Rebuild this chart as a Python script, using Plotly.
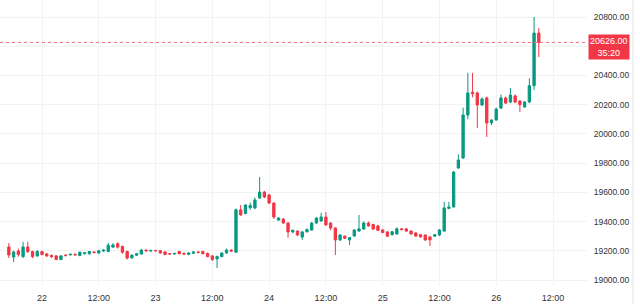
import pandas as pd
import plotly.graph_objects as go

# Hourly candles, 21 17:00 -> 26 09:00
start_time = "2024-08-21 17:00"
opens = [19226,19157,19198,19160,19226,19195,19165,19195,19178,19168,19165,19140,19170,19172,19176,19168,19180,19180,19192,19185,
         19198,19195,19225,19248,19230,19195,19152,19170,19178,19205,19198,19202,19200,19192,19180,19178,19195,19182,19175,19183,
         19192,19195,19182,19165,19145,19160,19185,19205,19190,19480,19455,19495,19493,19561,19602,19582,19527,19410,19417,19390,
         19329,19335,19294,19330,19342,19390,19404,19431,19390,19356,19274,19300,19275,19301,19335,19349,19390,19380,19370,19342,
         19329,19310,19315,19350,19350,19335,19322,19310,19308,19295,19300,19308,19335,19490,19500,19767,19835,20129,20285,20280,
         20198,20246,20075,20095,20177,20246,20218,20260,20225,20184,20218,20330,20690]
highs = [19253,19200,19215,19260,19262,19200,19205,19200,19185,19175,19170,19170,19175,19180,19182,19195,19192,19198,19196,19205,
         19210,19255,19252,19258,19236,19200,19175,19185,19212,19210,19208,19206,19205,19198,19185,19186,19200,19188,19190,19198,
         19196,19200,19188,19170,19168,19190,19215,19210,19490,19513,19520,19530,19565,19705,19610,19590,19530,19430,19425,19395,
         19345,19340,19335,19352,19395,19430,19460,19465,19395,19360,19312,19305,19295,19348,19445,19400,19400,19385,19378,19350,
         19335,19336,19360,19356,19356,19340,19328,19315,19312,19300,19315,19348,19535,19535,19745,19860,20180,20417,20417,20290,
         20250,20255,20100,20180,20270,20255,20314,20270,20230,20225,20380,20800,20725]
lows = [19150,19123,19160,19150,19185,19150,19158,19168,19158,19150,19135,19135,19160,19168,19168,19162,19175,19172,19182,19178,
        19192,19190,19220,19215,19180,19140,19145,19165,19175,19195,19194,19195,19180,19170,19172,19174,19175,19172,19170,19178,
        19182,19175,19155,19130,19082,19155,19180,19192,19185,19440,19450,19480,19485,19555,19560,19520,19418,19405,19385,19290,
        19320,19300,19275,19325,19338,19385,19400,19370,19340,19171,19268,19280,19240,19296,19330,19345,19365,19342,19335,19320,
        19295,19305,19310,19340,19330,19310,19296,19290,19268,19233,19295,19300,19330,19485,19495,19760,19830,20100,20250,20040,
        20190,19979,20060,20090,20170,20205,20210,20210,20150,20180,20210,20300,20526]
closes = [19171,19192,19175,19226,19195,19160,19195,19175,19165,19160,19140,19165,19168,19176,19172,19190,19186,19195,19188,19200,
          19205,19238,19240,19225,19190,19150,19170,19180,19205,19200,19202,19200,19185,19175,19178,19182,19180,19178,19185,19192,
          19188,19180,19160,19140,19160,19185,19205,19198,19480,19445,19513,19510,19548,19602,19568,19527,19431,19424,19390,19329,
          19340,19308,19329,19345,19390,19424,19431,19377,19356,19274,19308,19285,19290,19342,19350,19390,19370,19349,19340,19325,
          19300,19330,19350,19345,19335,19315,19301,19295,19274,19275,19310,19342,19493,19500,19739,19821,20129,20280,20275,20198,
          20239,20075,20095,20170,20246,20211,20266,20218,20200,20218,20330,20690,20626]

last_price = 20626.00
countdown = "35:20"
y_ticks = [19000, 19200, 19400, 19600, 19800, 20000, 20200, 20400, 20600, 20800]
hidden_ticks = [20600]  # covered by the price box in the reference
x_tick_times = ["2024-08-22 00:00", "2024-08-22 12:00", "2024-08-23 00:00", "2024-08-23 12:00",
                "2024-08-24 00:00", "2024-08-24 12:00", "2024-08-25 00:00", "2024-08-25 12:00",
                "2024-08-26 00:00", "2024-08-26 12:00"]
x_tick_text = ["22", "12:00", "23", "12:00", "24", "12:00", "25", "12:00", "26", "12:00"]

times = pd.date_range(start_time, periods=len(closes), freq="h")

UP = "#089981"
DOWN = "#F23645"
FONT = "Liberation Sans"

fig = go.Figure(go.Candlestick(
    x=times, open=opens, high=highs, low=lows, close=closes,
    increasing=dict(line=dict(color=UP, width=1), fillcolor=UP),
    decreasing=dict(line=dict(color=DOWN, width=1), fillcolor=DOWN),
    whiskerwidth=0, hoverinfo="skip",
))

# Axis ranges (layout): 22 00:00 at 42px, 26 12:00 at 553px, plot width 587px
plot_w = 587
px_per_hour = (553 - 42) / 108.0
t22 = pd.Timestamp("2024-08-22 00:00")
x0 = t22 - pd.Timedelta(hours=42 / px_per_hour)
x1 = x0 + pd.Timedelta(hours=plot_w / px_per_hour)

# y: 20800 at 17px, 19000 at 280px, plot height 285
ppu = (280 - 17) / 1800.0
y_top = 20800 + 17 / ppu
y_bot = 19000 - 5 / ppu

fig.add_shape(type="line", xref="paper", yref="y", x0=0, x1=1, y0=last_price, y1=last_price,
              line=dict(color="#f07080", width=1, dash="dot"))
fig.add_annotation(xref="paper", yref="y", x=1.0, y=last_price, xanchor="left", yanchor="middle",
                   yshift=-5, xshift=1,
                   text=f"{last_price:.2f}<br>{countdown}", showarrow=False, align="center",
                   bgcolor=DOWN, borderpad=1,
                   font=dict(color="white", size=9, family=FONT))
fig.add_shape(type="line", xref="paper", yref="paper", x0=633 / plot_w, x1=633 / plot_w, y0=-0.07, y1=1,
              line=dict(color="#e6e6e6", width=1))

fig.update_layout(
    width=640, height=304,
    margin=dict(l=0, r=640 - plot_w, t=0, b=19),
    paper_bgcolor="white", plot_bgcolor="white",
    showlegend=False,
    font=dict(family=FONT, size=9, color="#333333"),
    xaxis=dict(type="date", range=[x0, x1], rangeslider=dict(visible=False),
               tickvals=pd.to_datetime(x_tick_times), ticktext=x_tick_text,
               showgrid=True, gridcolor="#f2f2f2", gridwidth=1, zeroline=False,
               ticks="outside", ticklen=4, tickcolor="rgba(0,0,0,0)", showline=False,
               tickfont=dict(size=9, color="#333333")),
    yaxis=dict(side="right", range=[y_bot, y_top], tickvals=y_ticks,
               ticktext=["" if v in hidden_ticks else f"{v:.2f}" for v in y_ticks],
               showgrid=True, gridcolor="#f2f2f2", gridwidth=1, zeroline=False,
               ticks="outside", ticklen=4, tickcolor="rgba(0,0,0,0)", showline=False,
               tickfont=dict(size=8.5, color="#333333")),
)

fig.write_html("out.html")
